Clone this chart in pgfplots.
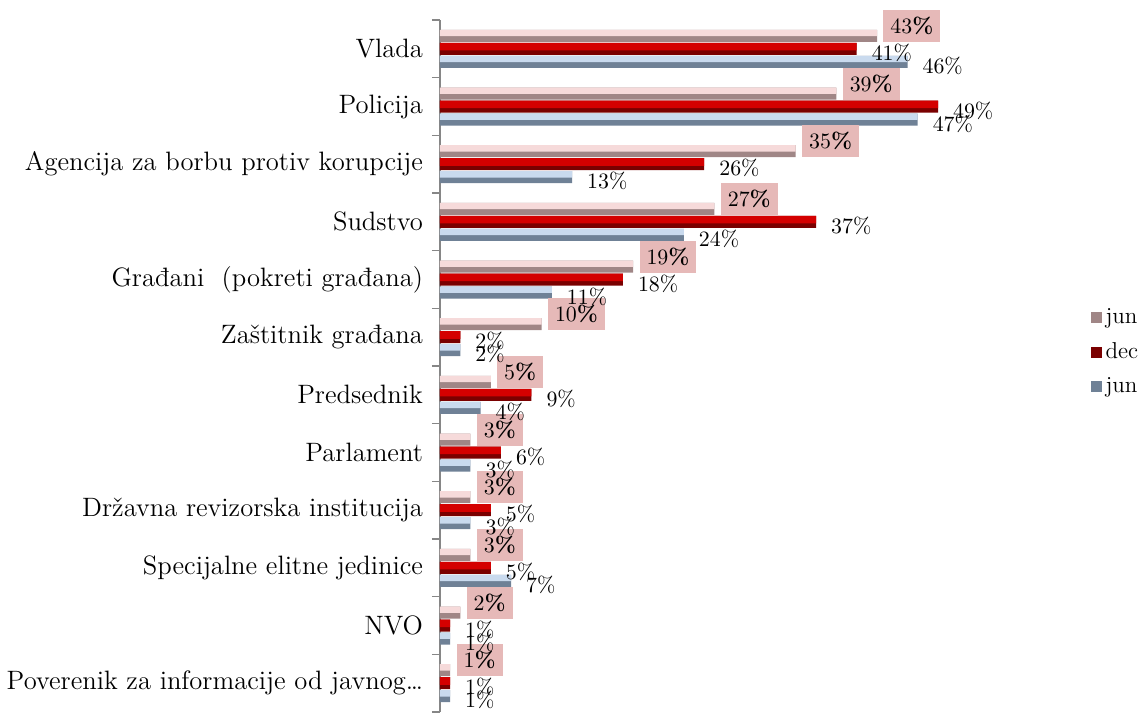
\documentclass[border=0pt]{standalone}
\usepackage{fontspec}
\setmainfont{Latin Modern Roman}[Numbers=OldStyle]
\usepackage{pgfplots}
\pgfplotsset{compat=1.18}
\definecolor{pinkL}{HTML}{F6DADA}
\definecolor{pinkD}{HTML}{A08686}
\definecolor{redL}{HTML}{D40000}
\definecolor{redD}{HTML}{7A0000}
\definecolor{bluL}{HTML}{C9DAEE}
\definecolor{bluD}{HTML}{6F8196}
\definecolor{boxc}{HTML}{E6B9B8}
\definecolor{axgray}{HTML}{868686}
\begin{document}
\begin{tikzpicture}
\begin{axis}[
  name=main,
  scale only axis, width=279.5pt, height=346pt,
  xmin=0, xmax=55, ymin=-0.5, ymax=11.5,
  y dir=reverse,
  xbar, bar width=6pt,
  axis x line=none, axis y line*=left,
  y axis line style={draw=axgray, line width=0.8pt, -},
  ytick={0,1,2,3,4,5,6,7,8,9,10,11},
  yticklabels={Vlada, Policija, Agencija za borbu protiv korupcije, Sudstvo, Građani\ \ (pokreti građana), Zaštitnik građana, Predsednik, Parlament, Državna revizorska institucija, Specijalne elitne jedinice, NVO, {Poverenik za informacije od javnog\ldots}},
  yticklabel style={font=\fontsize{13.3}{16}\selectfont, anchor=east, xshift=-5pt},
  major tick length=0pt,
  extra y ticks={-0.5,0.5,1.5,2.5,3.5,4.5,5.5,6.5,7.5,8.5,9.5,10.5,11.5},
  extra y tick labels={},
  extra y tick style={tick align=outside, major tick length=4pt, tick style={draw=axgray, line width=0.8pt}},
  clip=false,
  legend style={at={(1.163,0.52)}, anchor=west, draw=none, fill=none, font=\fontsize{11.5}{13}\selectfont, row sep=4pt, inner sep=0pt},
  legend cell align=left,
  legend image code/.code={\path[#1] (0pt,-2.75pt) rectangle (5.5pt,2.75pt);},
]
% jun (pink), top bar
\addplot[draw=none, fill=pinkD, bar shift=6.5pt,
  nodes near coords={\pgfmathprintnumber{\pgfplotspointmeta}\%},
  nodes near coords style={font=\fontsize{11}{13}\selectfont\bfseries, fill=boxc, anchor=west, xshift=3pt, yshift=5pt, minimum height=16pt, inner xsep=3.5pt, text=black}]
coordinates {(43,0) (39,1) (35,2) (27,3) (19,4) (10,5) (5,6) (3,7) (3,8) (3,9) (2,10) (1,11)};
% dec (red), middle bar
\addplot[draw=none, fill=redD, bar shift=0pt,
  nodes near coords={\pgfmathprintnumber{\pgfplotspointmeta}\%},
  nodes near coords style={font=\fontsize{11}{13}\selectfont, anchor=west, xshift=4pt, yshift=-2pt, text=black}]
coordinates {(41,0) (49,1) (26,2) (37,3) (18,4) (2,5) (9,6) (6,7) (5,8) (5,9) (1,10) (1,11)};
% jun (blue), bottom bar
\addplot[draw=none, fill=bluD, bar shift=-6.5pt,
  nodes near coords={\pgfmathprintnumber{\pgfplotspointmeta}\%},
  nodes near coords style={font=\fontsize{11}{13}\selectfont, anchor=west, xshift=4pt, yshift=-2pt, text=black}]
coordinates {(46,0) (47,1) (13,2) (24,3) (11,4) (2,5) (4,6) (3,7) (3,8) (7,9) (1,10) (1,11)};
\legend{jun, dec, jun}
% lighter upper parts of the bars
\addplot[forget plot, draw=none, fill=pinkL, bar width=3.2pt, bar shift=7.9pt]
coordinates {(43,0) (39,1) (35,2) (27,3) (19,4) (10,5) (5,6) (3,7) (3,8) (3,9) (2,10) (1,11)};
\addplot[forget plot, draw=none, fill=redL, bar width=3.8pt, bar shift=1.1pt]
coordinates {(41,0) (49,1) (26,2) (37,3) (18,4) (2,5) (9,6) (6,7) (5,8) (5,9) (1,10) (1,11)};
\addplot[forget plot, draw=none, fill=bluL, bar width=3.2pt, bar shift=-5.1pt]
coordinates {(46,0) (47,1) (13,2) (24,3) (11,4) (2,5) (4,6) (3,7) (3,8) (7,9) (1,10) (1,11)};
\end{axis}
\pgfresetboundingbox
\path[use as bounding box] (main.north west) ++(-220pt,10pt) rectangle ++(573pt,-356.5pt);
\end{tikzpicture}
\end{document}
